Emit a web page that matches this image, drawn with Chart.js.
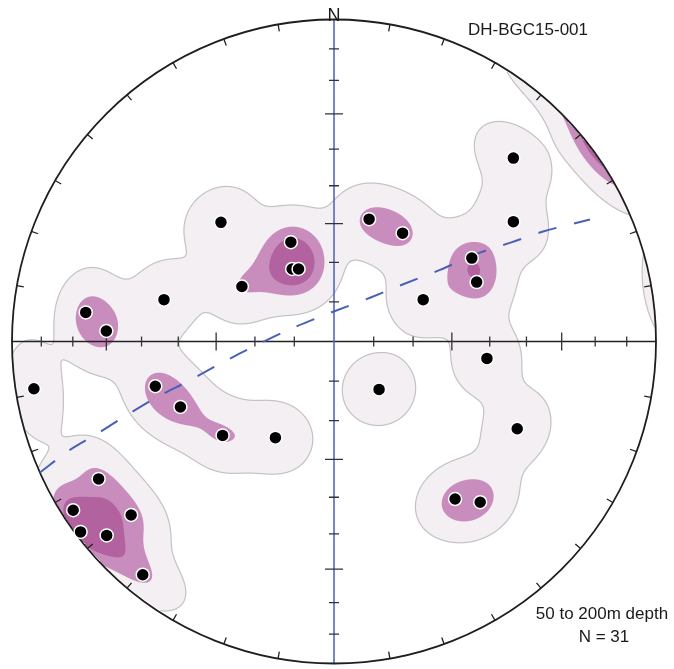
<!DOCTYPE html>
<html>
<head>
<meta charset="utf-8">
<title>DH-BGC15-001</title>
<script src="https://cdn.jsdelivr.net/npm/chart.js@4.4.1/dist/chart.umd.min.js"></script>
<style>
  html, body { margin: 0; padding: 0; background: #fff; }
  #wrap { width: 674px; height: 669px; }
</style>
</head>
<body>
<div id="wrap"><canvas id="net" width="674" height="669"></canvas></div>
<script>
// Poles on the equal-area net (lower hemisphere), net radius = 1, x = east, y = north
const poleX = [0.557, 0.557, 0.109, 0.213, 0.428, 0.443, 0.277, -0.134, -0.130, -0.110,
  -0.286, -0.351, -0.528, -0.771, -0.707, -0.932, -0.555, -0.477, -0.346, -0.182,
  0.140, 0.475, 0.569, 0.376, 0.454, -0.731, -0.810, -0.630, -0.787, -0.706, -0.594];
const poleY = [0.574, 0.375, 0.383, 0.339, 0.261, 0.186, 0.131, 0.311, 0.227, 0.227,
  0.172, 0.373, 0.131, 0.091, 0.033, -0.148, -0.140, -0.205, -0.294, -0.301,
  -0.150, -0.053, -0.273, -0.493, -0.503, -0.430, -0.528, -0.543, -0.596, -0.607, -0.730];

// Dashed great circle
const traceX = [-0.913, -0.820, -0.736, -0.643, -0.550, -0.447, -0.345, -0.236, -0.127,
  -0.003, 0.112, 0.217, 0.329, 0.447, 0.553, 0.652, 0.795];
const traceY = [-0.410, -0.339, -0.289, -0.230, -0.174, -0.121, -0.065, -0.009, 0.043,
  0.093, 0.137, 0.180, 0.224, 0.276, 0.311, 0.345, 0.382];

// Axis tick angles (degrees from centre) and rim tick azimuths
const axisTicks = [10, 20, 30, 40, 50, 60, 70, 80];
const rimTicks = [10, 20, 30, 40, 50, 60, 70, 80, 100, 110, 120, 130, 140, 150, 160, 170,
  190, 200, 210, 220, 230, 240, 250, 260, 280, 290, 300, 310, 320, 330, 340, 350];

const titleText = 'DH-BGC15-001';
const depthText = '50 to 200m depth';
const countText = 'N = 31';

// Fisher smoothing and contour levels
const kappa = 103;
const levels = [0.265, 1.09, 1.72];
const levelColors = [[244, 239, 243], [201, 141, 189], [177, 98, 159]];
const edgeColor = [185, 185, 185];

function toVector(x, y) {
  const r2 = x * x + y * y;
  const s = Math.sqrt(2 - r2);
  return [x * s, y * s, 1 - r2];
}

function buildDensity(chart) {
  const a = chart.chartArea, sx = chart.scales.x, sy = chart.scales.y;
  const w = Math.round(a.right - a.left), h = Math.round(a.bottom - a.top);
  const poles = poleX.map((px, i) => toVector(px, poleY[i]));
  const D = new Float32Array(w * h);
  const inside = new Uint8Array(w * h);
  for (let j = 0; j < h; j++) {
    const ny = sy.getValueForPixel(a.top + j + 0.5);
    for (let i = 0; i < w; i++) {
      const nx = sx.getValueForPixel(a.left + i + 0.5);
      const r2 = nx * nx + ny * ny;
      if (r2 > 1.6) continue;
      const v = toVector(nx, ny);
      let d = 0;
      for (const p of poles) {
        const c = Math.abs(v[0] * p[0] + v[1] * p[1] + v[2] * p[2]);
        d += Math.exp(kappa * (c - 1));
      }
      D[j * w + i] = d;
      if (r2 <= 1) inside[j * w + i] = 1;
    }
  }
  const off = document.createElement('canvas');
  off.width = w; off.height = h;
  const octx = off.getContext('2d');
  const img = octx.createImageData(w, h);
  const px = img.data;
  const clamp = v => v < 0 ? 0 : (v > 1 ? 1 : v);
  for (let j = 1; j < h - 1; j++) {
    for (let i = 1; i < w - 1; i++) {
      const k = j * w + i;
      if (!inside[k]) continue;
      const d = D[k];
      const gx = (D[k + 1] - D[k - 1]) / 2, gy = (D[k + w] - D[k - w]) / 2;
      const g = Math.max(Math.hypot(gx, gy), 1e-4);
      let r = 255, gg = 255, b = 255, alpha = 0;
      levels.forEach((L, n) => {
        const c = clamp((d - L) / g + 0.5);
        if (c > 0) {
          const col = levelColors[n];
          r += (col[0] - r) * c; gg += (col[1] - gg) * c; b += (col[2] - b) * c;
          alpha = Math.max(alpha, c);
        }
      });
      const e = clamp(1.1 - Math.abs(d - levels[0]) / g) * 0.85;
      if (e > 0) {
        r += (edgeColor[0] - r) * e; gg += (edgeColor[1] - gg) * e; b += (edgeColor[2] - b) * e;
        alpha = Math.max(alpha, e);
      }
      if (alpha <= 0) continue;
      px[k * 4] = r; px[k * 4 + 1] = gg; px[k * 4 + 2] = b; px[k * 4 + 3] = 255;
    }
  }
  octx.putImageData(img, 0, 0);
  return off;
}

/** Density shading, then net frame (axes, ticks, primitive) */
const netPlugin = {
  id: 'net',
  beforeDatasetsDraw(chart) {
    const { ctx, chartArea: a, scales: { x, y } } = chart;
    if (!this.img) this.img = buildDensity(chart);
    ctx.drawImage(this.img, Math.round(a.left), Math.round(a.top));

    const cx = x.getPixelForValue(0), cy = y.getPixelForValue(0);
    const R = x.getPixelForValue(1) - cx;
    ctx.save();
    ctx.lineCap = 'butt';
    // horizontal axis
    ctx.strokeStyle = '#222'; ctx.lineWidth = 1.6;
    ctx.beginPath(); ctx.moveTo(cx - R, cy); ctx.lineTo(cx + R, cy); ctx.stroke();
    // vertical axis (blue)
    ctx.strokeStyle = '#5468b8'; ctx.lineWidth = 1.6;
    ctx.beginPath(); ctx.moveTo(cx, cy - R); ctx.lineTo(cx, cy + R); ctx.stroke();
    // axis ticks
    ctx.strokeStyle = '#333'; ctx.lineWidth = 1.3;
    axisTicks.forEach(t => {
      const rr = R * Math.SQRT2 * Math.sin(t * Math.PI / 360);
      const half = (t % 30 === 0) ? 9 : 5;
      ctx.beginPath();
      [-1, 1].forEach(sg => {
        ctx.moveTo(cx + sg * rr, cy - half); ctx.lineTo(cx + sg * rr, cy + half);
        ctx.moveTo(cx - half, cy + sg * rr); ctx.lineTo(cx + half, cy + sg * rr);
      });
      ctx.stroke();
    });
    // rim ticks
    ctx.strokeStyle = '#222'; ctx.lineWidth = 1.3;
    ctx.beginPath();
    rimTicks.forEach(az => {
      const s = Math.sin(az * Math.PI / 180), c = Math.cos(az * Math.PI / 180);
      ctx.moveTo(cx + R * s, cy - R * c);
      ctx.lineTo(cx + (R - 7) * s, cy - (R - 7) * c);
    });
    ctx.stroke();
    // primitive circle
    ctx.strokeStyle = '#1e1e1e'; ctx.lineWidth = 1.8;
    ctx.beginPath(); ctx.arc(cx, cy, R, 0, Math.PI * 2); ctx.stroke();
    ctx.restore();
  },
  afterDraw(chart) {
    const { ctx, scales: { x, y } } = chart;
    const cx = x.getPixelForValue(0), cy = y.getPixelForValue(0);
    const R = x.getPixelForValue(1) - cx;
    ctx.save();
    ctx.fillStyle = '#1a1a1a';
    ctx.textAlign = 'center';
    ctx.textBaseline = 'alphabetic';
    ctx.font = '18px "Liberation Sans", Arial, sans-serif';
    ctx.fillText('N', cx, cy - R + 1);
    ctx.font = '17px "Liberation Sans", Arial, sans-serif';
    ctx.fillText(titleText, 528, 35);
    ctx.fillText(depthText, 602, 619);
    ctx.fillText(countText, 604, 642);
    ctx.restore();
  }
};

new Chart(document.getElementById('net'), {
  type: 'scatter',
  data: {
    datasets: [
      {
        label: 'Poles',
        data: poleX.map((v, i) => ({ x: v, y: poleY[i] })),
        pointRadius: 6.5,
        pointHoverRadius: 6.5,
        pointBackgroundColor: '#000',
        pointBorderColor: '#fff',
        pointBorderWidth: 1.5
      },
      {
        label: 'Plane',
        data: traceX.map((v, i) => ({ x: v, y: traceY[i] })),
        showLine: true,
        borderColor: '#4a60b6',
        borderWidth: 2,
        borderDash: [19, 18],
        tension: 0.3,
        pointRadius: 0,
        fill: false
      }
    ]
  },
  options: {
    responsive: false,
    animation: false,
    events: [],
    layout: { padding: { left: 12, right: 18, top: 22, bottom: 3 } },
    plugins: { legend: { display: false }, tooltip: { enabled: false } },
    scales: {
      x: { type: 'linear', min: -1, max: 1, display: false },
      y: { type: 'linear', min: -1, max: 1, display: false }
    }
  },
  plugins: [netPlugin]
});
</script>
</body>
</html>
